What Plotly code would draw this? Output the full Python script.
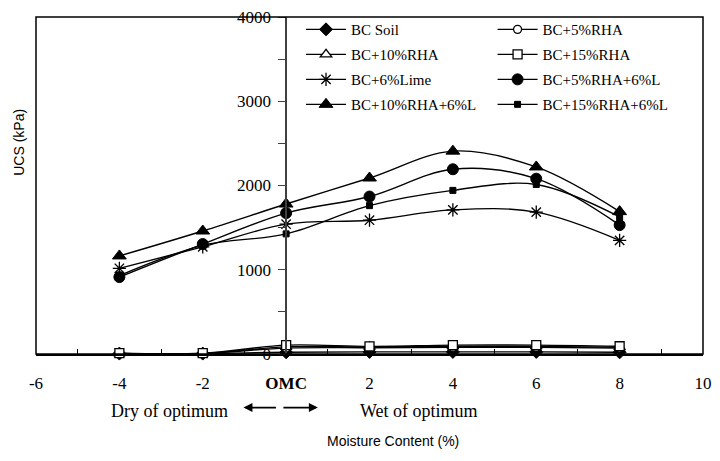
import plotly.graph_objects as go

moisture = [-4, -2, 0, 2, 4, 6, 8]

bc_soil = [5, 5, 20, 25, 25, 25, 20]
bc_5rha = [8, 8, 70, 75, 80, 80, 70]
bc_10rha = [8, 8, 85, 85, 90, 90, 80]
bc_15rha = [10, 10, 105, 90, 105, 105, 92]
bc_6lime = [1017, 1272, 1541, 1588, 1711, 1684, 1349]
bc_5rha_6l = [913, 1305, 1673, 1869, 2193, 2081, 1530]
bc_10rha_6l = [1164, 1460, 1780, 2089, 2408, 2220, 1690]
bc_15rha_6l = [930, 1290, 1426, 1761, 1942, 2012, 1627]

series_names = ["BC Soil", "BC+5%RHA", "BC+10%RHA", "BC+15%RHA",
                "BC+6%Lime", "BC+5%RHA+6%L", "BC+10%RHA+6%L", "BC+15%RHA+6%L"]
series_values = [bc_soil, bc_5rha, bc_10rha, bc_15rha,
                 bc_6lime, bc_5rha_6l, bc_10rha_6l, bc_15rha_6l]

x_tick_vals = [-6, -4, -2, 0, 2, 4, 6, 8, 10]
x_tick_text = ["-6", "-4", "-2", "<b>OMC</b>", "2", "4", "6", "8", "10"]
y_tick_vals = [0, 500, 1000, 1500, 2000, 2500, 3000, 3500, 4000]
y_tick_text = ["0", "", "1000", "", "2000", "", "3000", "", "4000"]

marker_styles = [
    dict(symbol="diamond", size=10, color="black", line=dict(color="black", width=1)),
    dict(symbol="circle", size=8, color="white", line=dict(color="black", width=1.3)),
    dict(symbol="triangle-up", size=10, color="white", line=dict(color="black", width=1.3)),
    dict(symbol="square", size=9, color="white", line=dict(color="black", width=1.3)),
    dict(symbol="asterisk-open", size=11, color="black", line=dict(color="black", width=1.3)),
    dict(symbol="circle", size=11, color="black", line=dict(color="black", width=1)),
    dict(symbol="triangle-up", size=12, color="black", line=dict(color="black", width=1)),
    dict(symbol="square", size=6, color="black", line=dict(color="black", width=1)),
]
# legend column for each series (two-column legend like the original)
legend_ids = ["legend", "legend2", "legend", "legend2",
              "legend", "legend2", "legend", "legend2"]

SERIF = "Liberation Serif"
SANS = "Liberation Sans"

fig = go.Figure()
for name, vals, mk, lg in zip(series_names, series_values, marker_styles, legend_ids):
    fig.add_trace(go.Scatter(
        x=moisture, y=vals, name=name, mode="lines+markers",
        line=dict(color="black", width=1.4, shape="spline", smoothing=1.0),
        marker=mk, legend=lg, legendgroup=name, cliponaxis=False,
    ))

legend_common = dict(
    orientation="v", yanchor="top", xanchor="left",
    font=dict(family=SERIF, size=15, color="black"),
    bgcolor="rgba(0,0,0,0)", itemwidth=40, tracegroupgap=2.5,
)

fig.update_layout(
    width=720, height=461,
    margin=dict(l=36, r=12, t=8, b=107),
    paper_bgcolor="white", plot_bgcolor="white",
    font=dict(family=SERIF, size=15, color="black"),
    showlegend=True,
    legend=dict(x=(303 - 36) / 672, y=(354 - 4) / 346, **legend_common),
    legend2=dict(x=(496 - 36) / 672, y=(354 - 4) / 346, **legend_common),
    xaxis=dict(
        range=[-6, 10], tickvals=x_tick_vals, ticktext=x_tick_text,
        ticks="", showgrid=False, zeroline=False,
        showline=True, linecolor="black", linewidth=1.5,
        ticklabelstandoff=13,
        tickfont=dict(family=SERIF, size=17, color="black"),
        minor=dict(tick0=-5, dtick=2, ticks="inside", ticklen=5,
                   tickcolor="black", tickwidth=1, showgrid=False),
    ),
    yaxis=dict(
        range=[0, 4000], tickvals=y_tick_vals, ticktext=y_tick_text,
        anchor="free", position=0.375,
        ticks="outside", ticklen=7, tickcolor="#404040", tickwidth=1.2,
        showgrid=False, zeroline=False, ticklabeloverflow="allow",
        ticklabelstandoff=4,
        showline=True, linecolor="#404040", linewidth=1.5,
        tickfont=dict(family=SERIF, size=17, color="black"),
    ),
    yaxis2=dict(
        range=[0, 4000], tickvals=y_tick_vals, overlaying="y",
        anchor="free", position=0.375,
        ticks="inside", ticklen=7, tickcolor="#404040", tickwidth=1.2,
        showticklabels=False, showgrid=False, zeroline=False, showline=False,
    ),
    shapes=[dict(type="rect", xref="paper", yref="paper", x0=0, y0=0, x1=1, y1=1,
                 line=dict(color="black", width=1.5), layer="above")],
    annotations=[
        dict(text="Dry of optimum", xref="paper", yref="paper",
             x=(170 - 36) / 672, y=(354 - 413) / 346, showarrow=False,
             xanchor="center", yanchor="middle",
             font=dict(family=SERIF, size=18, color="black")),
        dict(text="Wet of optimum", xref="paper", yref="paper",
             x=(422 - 36) / 672, y=(354 - 413) / 346, showarrow=False,
             xanchor="center", yanchor="middle",
             font=dict(family=SERIF, size=18, color="black")),
        dict(text="", xref="paper", yref="paper", axref="pixel", ayref="pixel",
             x=(245 - 36) / 672, y=(354 - 409) / 346, ax=34, ay=0,
             showarrow=True, arrowhead=2, arrowsize=1, arrowwidth=1.8, arrowcolor="black"),
        dict(text="", xref="paper", yref="paper", axref="pixel", ayref="pixel",
             x=(320 - 36) / 672, y=(354 - 409) / 346, ax=-36, ay=0,
             showarrow=True, arrowhead=2, arrowsize=1, arrowwidth=1.8, arrowcolor="black"),
        dict(text="Moisture Content (%)", xref="paper", yref="paper",
             x=(396 - 36) / 672, y=(354 - 443) / 346, showarrow=False,
             xanchor="center", yanchor="middle",
             font=dict(family=SANS, size=14, color="black")),
        dict(text="UCS (kPa)", xref="paper", yref="paper", textangle=-90,
             x=(19 - 36) / 672, y=(354 - 137) / 346, showarrow=False,
             xanchor="center", yanchor="middle",
             font=dict(family=SANS, size=14, color="black")),
    ],
)

fig.write_html("out.html")
